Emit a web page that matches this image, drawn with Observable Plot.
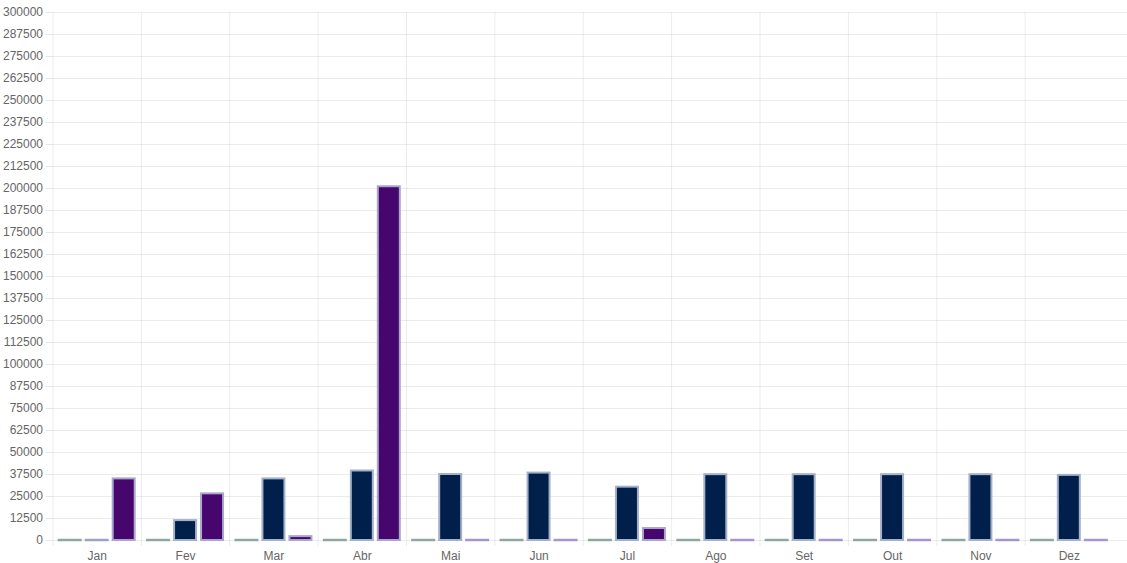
<!DOCTYPE html>
<html>
<head>
<meta charset="utf-8">
<script src="https://cdn.jsdelivr.net/npm/d3@7"></script>
<script src="https://cdn.jsdelivr.net/npm/@observablehq/plot@0.6"></script>
<style>
  html, body { margin: 0; padding: 0; background: #fff; }
  #chart svg { display: block; }
</style>
</head>
<body>
<div id="chart"></div>
<script>
const months = ["Jan","Fev","Mar","Abr","Mai","Jun","Jul","Ago","Set","Out","Nov","Dez"];
const seriesNames = ["Série 1","Série 2","Série 3"];
const serie1 = [0,0,0,0,0,0,0,0,0,0,0,0];
const serie2 = [0,11300,35000,39500,37500,38300,30300,37400,37400,37400,37400,37000];
const serie3 = [35000,26500,2200,201000,0,0,6800,0,0,0,0,0];
const yTicks = d3.range(0, 300001, 12500);

const fills = ["#8fa89c","#00204b","#47066d"];
const borders = ["#8fa89c","#a5b0ca","#a9a6cc"];
const zeroLine = ["#8fa89c","#9aa5c3","#a497c9"];
const offsets = [-27, 0, 27];

const allSeries = [serie1, serie2, serie3];
const rows = [];
allSeries.forEach((vals, si) => {
  vals.forEach((v, mi) => rows.push({month: months[mi], series: si, value: v}));
});

const bandStart = 52.5, bandEnd = 1113;
const bandW = (bandEnd - bandStart) / months.length;
const barW = 22;
const inset = (bandW - barW) / 2;

const marks = [
  Plot.gridY(yTicks, {stroke: "#000", strokeOpacity: 0.075}),
  Plot.ruleX(months, {x: d => d, dx: -bandW / 2, stroke: "#000", strokeOpacity: 0.075, insetBottom: -6}),
  Plot.axisY(yTicks, {tickSize: 7, tickPadding: 3, stroke: "#e6e6e6", fill: "#666", tickFormat: d => String(d), fontSize: 12}),
  Plot.axisX({tickSize: 0, tickPadding: 11, fill: "#666", fontSize: 12})
];
[0,1,2].forEach(si => {
  marks.push(Plot.barY(rows.filter(r => r.series === si && r.value > 0), {
    x: "month", y: "value", fill: fills[si], stroke: borders[si], strokeWidth: 2,
    insetLeft: inset, insetRight: inset, dx: offsets[si]
  }));
  marks.push(Plot.tickY(rows.filter(r => r.series === si && r.value === 0), {
    x: "month", y: "value", stroke: zeroLine[si], strokeWidth: 2.5,
    insetLeft: inset - 1, insetRight: inset - 1, dx: offsets[si], dy: -0.5
  }));
});

const chart = Plot.plot({
  width: 1127,
  height: 563,
  marginLeft: 52.5,
  marginRight: 0,
  marginTop: 12,
  marginBottom: 23,
  style: {fontFamily: "'Liberation Sans', Arial, Helvetica, sans-serif", fontSize: "12px", background: "#fff"},
  x: {domain: months, range: [bandStart, bandEnd], padding: 0, round: false, label: null},
  y: {domain: [0, 300000], label: null},
  marks
});
document.getElementById("chart").appendChild(chart);
</script>
</body>
</html>
